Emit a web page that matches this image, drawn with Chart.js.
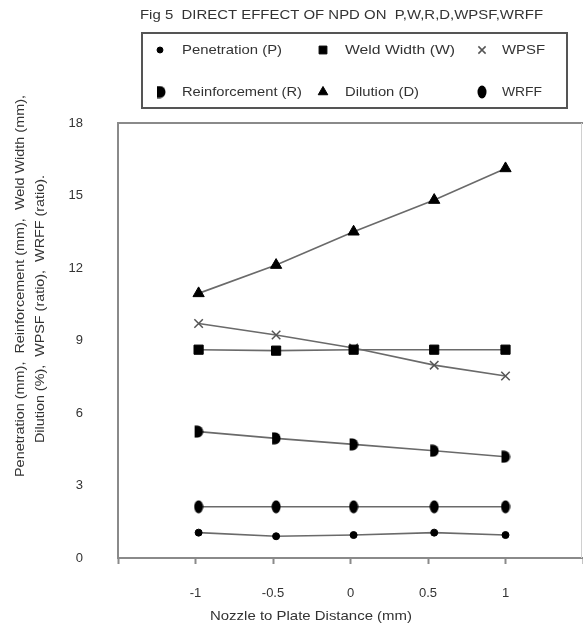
<!DOCTYPE html>
<html>
<head>
<meta charset="utf-8">
<script src="https://cdn.jsdelivr.net/npm/chart.js@4.4.1/dist/chart.umd.min.js"></script>
<style>
  html, body { margin: 0; padding: 0; background: #fff; }
  #wrap { width: 583px; height: 629px; }
</style>
</head>
<body>
<div id="wrap"><canvas id="chart" width="583" height="629"></canvas></div>
<script>
const FONT = "'Liberation Sans', Arial, sans-serif"

// values
const npd = [-0.98, -0.48, 0.02, 0.54, 1.0]
const penetration = [1.05, 0.9, 0.95, 1.05, 0.95]
const weldWidth = [8.62, 8.58, 8.62, 8.62, 8.62]
const wpsf = [9.7, 9.23, 8.69, 7.98, 7.53]
const reinforcement = [5.23, 4.95, 4.7, 4.44, 4.19]
const dilution = [10.95, 12.12, 13.5, 14.81, 16.12]
const wrff = [2.12, 2.12, 2.12, 2.12, 2.12]

const xTicks = [-1.5, -1, -0.5, 0, 0.5, 1, 1.5]
const xTickLabels = ["", "-1", "-0.5", "0", "0.5", "1", ""]
const yTicks = [0, 3, 6, 9, 12, 15, 18]

const toPoints = (ys) => ys.map((y, i) => ({ x: npd[i], y }))

const makeMarker = (w, h, draw) => {
  const c = document.createElement("canvas")
  c.width = w
  c.height = h
  const g = c.getContext("2d")
  g.fillStyle = "#000"
  draw(g, w, h)
  return c
}

// "D" shaped marker for reinforcement
const dMarker = makeMarker(10, 13, (g) => {
  g.beginPath()
  g.moveTo(1, 0.5)
  g.lineTo(4, 0.5)
  g.ellipse(4, 6.5, 5.5, 6, 0, -Math.PI / 2, Math.PI / 2)
  g.lineTo(1, 12.5)
  g.closePath()
  g.fill()
})

// tall ellipse for WRFF
const ovalMarker = makeMarker(10, 14, (g) => {
  g.beginPath()
  g.ellipse(5, 7, 4.5, 6.5, 0, 0, Math.PI * 2)
  g.fill()
})

const LINE = "#6a6a6a"

const series = (label, ys, style, radius, color) => ({
  label,
  data: toPoints(ys),
  showLine: true,
  borderColor: LINE,
  borderWidth: 1.6,
  pointStyle: style,
  pointRadius: radius,
  pointHoverRadius: radius,
  pointBackgroundColor: color || "#000",
  pointBorderColor: color || "#000",
  pointBorderWidth: style === "crossRot" ? 1.5 : 1,
})

const datasets = [
  series("Penetration (P)", penetration, "circle", 3.5),
  series("Weld Width (W)", weldWidth, "rect", 6.5),
  series("WPSF", wpsf, "crossRot", 6, "#555"),
  series("Reinforcement (R)", reinforcement, dMarker, 6),
  series("Dilution (D)", dilution, "triangle", 6.5),
  series("WRFF", wrff, ovalMarker, 7),
]

// legend slots: marker x, text x, row y, text width
const legendSlots = [
  [160, 182, 50, 100], [323, 345, 50, 110], [482, 502, 50, 43],
  [161, 182, 92, 120], [323, 345, 92, 74], [482, 502, 92, 40],
]

// draw text squeezed or stretched to a given width
const fitText = (ctx, text, x, y, width) => {
  const w = ctx.measureText(text).width
  ctx.save()
  ctx.translate(x, y)
  ctx.scale(width / w, 1)
  ctx.fillText(text, 0, 0)
  ctx.restore()
}

const decorations = {
  id: "decorations",
  afterDraw(chart) {
    const ctx = chart.ctx
    const area = chart.chartArea
    ctx.save()

    // plot frame top and right
    ctx.strokeStyle = "#8a8a8a"
    ctx.lineWidth = 2
    ctx.beginPath()
    ctx.moveTo(area.left, area.top)
    ctx.lineTo(area.right, area.top)
    ctx.stroke()
    ctx.strokeStyle = "#d0d0d0"
    ctx.lineWidth = 1
    ctx.beginPath()
    ctx.moveTo(area.right - 1.5, area.top)
    ctx.lineTo(area.right - 1.5, area.bottom)
    ctx.stroke()

    ctx.fillStyle = "#333"
    ctx.textBaseline = "middle"
    ctx.textAlign = "left"

    // title
    ctx.font = "13px " + FONT
    fitText(ctx, "Fig 5  DIRECT EFFECT OF NPD ON  P,W,R,D,WPSF,WRFF", 140, 15, 403)

    // legend box
    ctx.strokeStyle = "#555"
    ctx.lineWidth = 2
    ctx.strokeRect(142, 33, 425, 75)

    chart.data.datasets.forEach((ds, i) => {
      const [mx, tx, ty, tw] = legendSlots[i]
      ctx.fillStyle = ds.pointBackgroundColor
      ctx.strokeStyle = ds.pointBorderColor
      ctx.lineWidth = ds.pointBorderWidth
      Chart.helpers.drawPoint(ctx, {
        pointStyle: ds.pointStyle,
        radius: ds.pointRadius * 0.85,
        borderWidth: ds.pointBorderWidth,
        rotation: 0,
      }, mx, ty)
      ctx.fillStyle = "#333"
      ctx.font = "13px " + FONT
      fitText(ctx, ds.label, tx, ty, tw)
    })

    // y axis title, two rotated lines
    ctx.font = "13px " + FONT
    ctx.fillStyle = "#333"
    ctx.save()
    ctx.translate(20, 477)
    ctx.rotate(-Math.PI / 2)
    fitText(ctx, "Penetration (mm),  Reinforcement (mm),  Weld Width (mm),", 0, 0, 382)
    ctx.restore()
    ctx.save()
    ctx.translate(40, 443)
    ctx.rotate(-Math.PI / 2)
    fitText(ctx, "Dilution (%),  WPSF (ratio),  WRFF (ratio).", 0, 0, 268)
    ctx.restore()

    // x axis title
    fitText(ctx, "Nozzle to Plate Distance (mm)", 210, 616, 202)

    ctx.restore()
  },
}

new Chart(document.getElementById("chart"), {
  type: "scatter",
  data: { datasets },
  options: {
    responsive: false,
    animation: false,
    layout: {
      autoPadding: false,
      padding: { top: 123, right: 0, left: 0, bottom: 0 },
    },
    plugins: {
      legend: { display: false },
      tooltip: { enabled: false },
      title: { display: false },
    },
    scales: {
      x: {
        type: "linear",
        min: -1.5,
        max: 1.5,
        afterFit: (s) => {
          s.height = 71
          s.paddingLeft = 0
          s.paddingRight = 0
        },
        afterBuildTicks: (s) => { s.ticks = xTicks.map((v) => ({ value: v })) },
        grid: {
          display: true,
          drawOnChartArea: false,
          tickLength: 6,
          tickWidth: 2,
          tickColor: "#8a8a8a",
        },
        border: { display: true, color: "#8a8a8a", width: 2 },
        ticks: {
          padding: 22,
          maxRotation: 0,
          autoSkip: false,
          color: "#333",
          font: { family: FONT, size: 13 },
          callback: (v) => xTickLabels[xTicks.indexOf(v)],
        },
      },
      y: {
        min: 0,
        max: 18,
        afterFit: (s) => {
          s.width = 118
          s.paddingTop = 0
          s.paddingBottom = 0
        },
        afterBuildTicks: (s) => { s.ticks = yTicks.map((v) => ({ value: v })) },
        grid: { display: false },
        border: { display: true, color: "#8a8a8a", width: 2 },
        ticks: {
          padding: 27,
          color: "#333",
          font: { family: FONT, size: 13 },
        },
      },
    },
  },
  plugins: [decorations],
})
</script>
</body>
</html>
